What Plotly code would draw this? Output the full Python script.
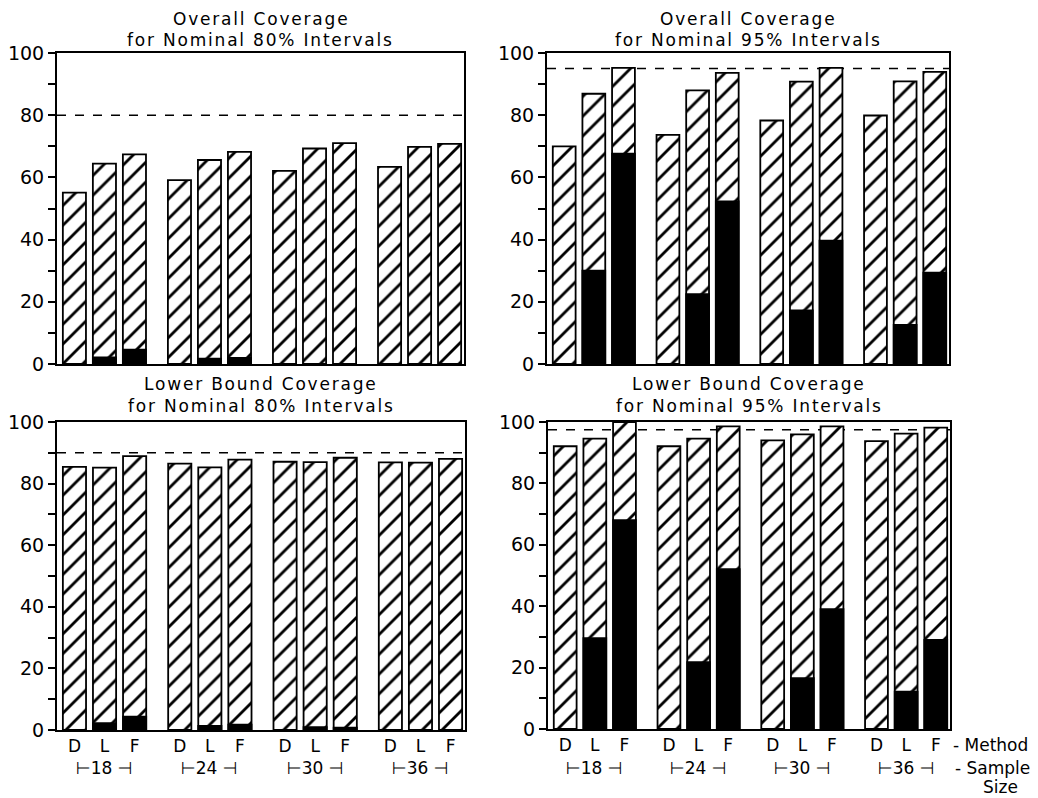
import plotly.graph_objects as go

# ---------------- data ----------------
methods = ["D", "L", "F"]
sample_sizes = ["18", "24", "30", "36"]

overall80_total = [55.1, 64.4, 67.4, 59.1, 65.6, 68.2, 62.1, 69.3, 71.0, 63.4, 69.8, 70.8]
overall80_black = [0, 2.1, 4.6, 0, 1.7, 2.0, 0, 0, 0, 0, 0, 0]
overall95_total = [70.0, 86.9, 95.2, 73.7, 88.0, 93.6, 78.3, 90.8, 95.2, 79.9, 90.9, 93.9]
overall95_black = [0, 30.0, 67.6, 0, 22.5, 52.3, 0, 17.2, 39.7, 0, 12.6, 29.4]
lower80_total = [85.4, 85.2, 88.9, 86.5, 85.3, 87.8, 87.1, 87.0, 88.4, 86.9, 86.8, 88.0]
lower80_black = [0, 2.2, 4.3, 0, 1.3, 1.7, 0, 0.9, 0.8, 0, 0, 0]
lower95_total = [92.1, 94.6, 100.0, 92.1, 94.6, 98.6, 94.0, 96.0, 98.6, 93.8, 96.2, 98.2]
lower95_black = [0, 29.6, 68.0, 0, 21.8, 52.1, 0, 16.6, 39.0, 0, 12.2, 29.0]

nominal_levels = [80, 95, 90, 97.5]
titles = [
    ("Overall Coverage", "for Nominal 80% Intervals"),
    ("Overall Coverage", "for Nominal 95% Intervals"),
    ("Lower Bound Coverage", "for Nominal 80% Intervals"),
    ("Lower Bound Coverage", "for Nominal 95% Intervals"),
]
y_ticks = [0, 20, 40, 60, 80, 100]

# ---------------- layout helpers ----------------
# page body has an 8px margin, so the figure is drawn at (8, 8)
OFF = 8
W, H = 1038 - OFF, 798 - OFF
GROUP_STEP = 3.5
BAR_W = 0.77
XRANGE = [-0.58, 12.98]
FONT = "DejaVu Sans"

xpos = [g * GROUP_STEP + m for g in range(len(sample_sizes)) for m in range(len(methods))]
xlabels = [m for _ in sample_sizes for m in methods]

def px_x(p):
    return (p - OFF) / W

def px_y(p):
    return 1 - (p - OFF) / H

def spaced(txt, sp=1.5):
    return f'<span style="letter-spacing:{sp}px">{txt}</span>'

# panel boxes in page pixels: (x0, x1, ytop, ybottom)
panels = [
    (57, 464, 53, 364),
    (547, 949, 53, 364),
    (57, 465, 422, 730),
    (548, 950, 422, 729),
]
data = [
    (overall80_total, overall80_black),
    (overall95_total, overall95_black),
    (lower80_total, lower80_black),
    (lower95_total, lower95_black),
]

fig = go.Figure()
layout = dict(
    width=W, height=H,
    margin=dict(l=0, r=0, t=0, b=0, autoexpand=False),
    paper_bgcolor="white", plot_bgcolor="white",
    showlegend=False, barmode="overlay",
    font=dict(family=FONT, color="black"),
)
shapes = []
annotations = []

for i, ((x0, x1, yt, yb), (tot, blk)) in enumerate(zip(panels, data)):
    n = i + 1
    xa = "x" if n == 1 else f"x{n}"
    ya = "y" if n == 1 else f"y{n}"
    xkey = "xaxis" if n == 1 else f"xaxis{n}"
    ykey = "yaxis" if n == 1 else f"yaxis{n}"
    bottom = i >= 2

    fig.add_trace(go.Bar(
        x=xpos, y=tot, width=BAR_W, xaxis=xa, yaxis=ya,
        marker=dict(color="white",
                    line=dict(color="black", width=1.8),
                    pattern=dict(shape="/", fgcolor="black", bgcolor="white",
                                 size=14, solidity=0.2, fillmode="replace")),
        hoverinfo="skip",
    ))
    fig.add_trace(go.Bar(
        x=xpos, y=blk, width=BAR_W, xaxis=xa, yaxis=ya,
        marker=dict(color="black", line=dict(color="black", width=1.8)),
        hoverinfo="skip",
    ))

    layout[xkey] = dict(
        domain=[px_x(x0), px_x(x1)], anchor=ya, range=XRANGE, automargin=False,
        showline=True, mirror=True, linecolor="black", linewidth=2,
        showgrid=False, zeroline=False, ticks="",
        tickvals=xpos if bottom else [], ticktext=xlabels if bottom else [],
        showticklabels=bottom, tickfont=dict(size=17, family=FONT),
    )
    layout[ykey] = dict(
        domain=[px_y(yb), px_y(yt)], anchor=xa, range=[0, 100], automargin=False,
        showline=True, mirror=True, linecolor="black", linewidth=2,
        showgrid=False, zeroline=False,
        tickvals=y_ticks, ticks="outside", ticklen=7, tickwidth=1.5, tickcolor="black",
        minor=dict(dtick=10, ticks="outside", ticklen=7, tickwidth=1.5, tickcolor="black",
                   showgrid=False),
        tickfont=dict(size=19, family=FONT),
    )

    shapes.append(dict(
        type="line", xref=f"{xa} domain", yref=ya, x0=0, x1=1,
        y0=nominal_levels[i], y1=nominal_levels[i],
        line=dict(color="black", width=1.5, dash="dash"), layer="below",
    ))

    cx = (x0 + x1) / 2
    ty1 = 19 if i < 2 else 384
    ty2 = 40 if i < 2 else 406
    for txt, ty in zip(titles[i], (ty1, ty2)):
        annotations.append(dict(
            text=spaced(txt, 1.8), xref="paper", yref="paper", x=px_x(cx), y=px_y(ty),
            xanchor="center", yanchor="middle", showarrow=False,
            font=dict(size=17, family=FONT),
        ))

    if bottom:
        for g, s in enumerate(sample_sizes):
            annotations.append(dict(
                text=f"⊢{s} ⊣", xref=xa, yref="paper",
                x=g * GROUP_STEP + 1, y=px_y(768),
                xanchor="center", yanchor="middle", showarrow=False,
                font=dict(size=17, family=FONT),
            ))

annotations += [
    dict(text="- Method", xref="paper", yref="paper", x=px_x(951), y=px_y(745),
         xanchor="left", yanchor="middle", showarrow=False, font=dict(size=17, family=FONT)),
    dict(text="- Sample", xref="paper", yref="paper", x=px_x(953), y=px_y(768),
         xanchor="left", yanchor="middle", showarrow=False, font=dict(size=17, family=FONT)),
    dict(text="Size", xref="paper", yref="paper", x=px_x(1000), y=px_y(787),
         xanchor="center", yanchor="middle", showarrow=False, font=dict(size=17, family=FONT)),
]

layout["shapes"] = shapes
layout["annotations"] = annotations
fig.update_layout(**layout)
fig.write_html("out.html")
